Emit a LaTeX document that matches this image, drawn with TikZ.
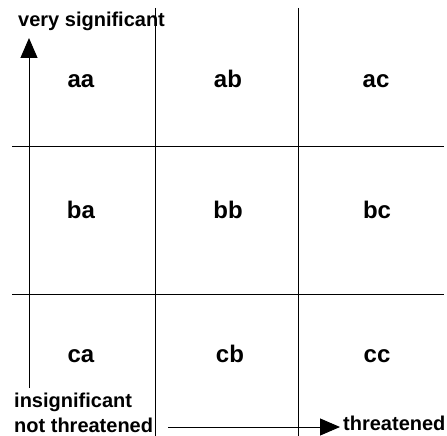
\documentclass[tikz,border=0pt]{standalone}
\usepackage{fontspec}
\setmainfont{Liberation Sans}[BoldFont={Liberation Sans Bold}]
\usetikzlibrary{arrows.meta}

\tikzset{
  cell/.style={font=\fontsize{24}{28}\selectfont\bfseries, inner sep=0pt, anchor=base},
  axlabel/.style={font=\fontsize{20}{24}\selectfont\bfseries, inner sep=0pt, anchor=base west},
  gridline/.style={line width=1pt},
  axis/.style={line width=1pt, -{Triangle[length=20pt,width=17pt]}}
}

\begin{document}
\begin{tikzpicture}[x=1pt,y=-1pt]
\useasboundingbox (0,0) rectangle (447,436);
% grid
\coordinate (V1t) at (155,8); \coordinate (V1b) at (155,436);
\coordinate (V2t) at (298,8); \coordinate (V2b) at (298,436);
\coordinate (H1l) at (12,146); \coordinate (H1r) at (444,146);
\coordinate (H2l) at (12,294); \coordinate (H2r) at (444,294);
\draw[gridline] (V1t)--(V1b);
\draw[gridline] (V2t)--(V2b);
\draw[gridline] (H1l)--(H1r);
\draw[gridline] (H2l)--(H2r);
% cells
\node[cell] (aa) at (81,88) {aa};
\node[cell] (ab) at (228,88) {ab};
\node[cell] (ac) at (376,88) {ac};
\node[cell] (ba) at (81,218) {ba};
\node[cell] (bb) at (228,218) {bb};
\node[cell] (bc) at (377,218) {bc};
\node[cell] (ca) at (81,362) {ca};
\node[cell] (cb) at (230,362) {cb};
\node[cell] (cc) at (377,362) {cc};
% axes
\coordinate (Ys) at (29,388); \coordinate (Ye) at (29,38);
\coordinate (Xs) at (168,427); \coordinate (Xe) at (340,427);
\draw[axis] (Ys)--(Ye);
\draw[axis] (Xs)--(Xe);
\node[axlabel] (sig) at (18,27) {very significant};
\node[axlabel] (insig) at (14,407) {insignificant};
\node[axlabel] (notthr) at (14,432) {not threatened};
\node[axlabel] (thr) at (343,430) {threatened};
\end{tikzpicture}
\end{document}
